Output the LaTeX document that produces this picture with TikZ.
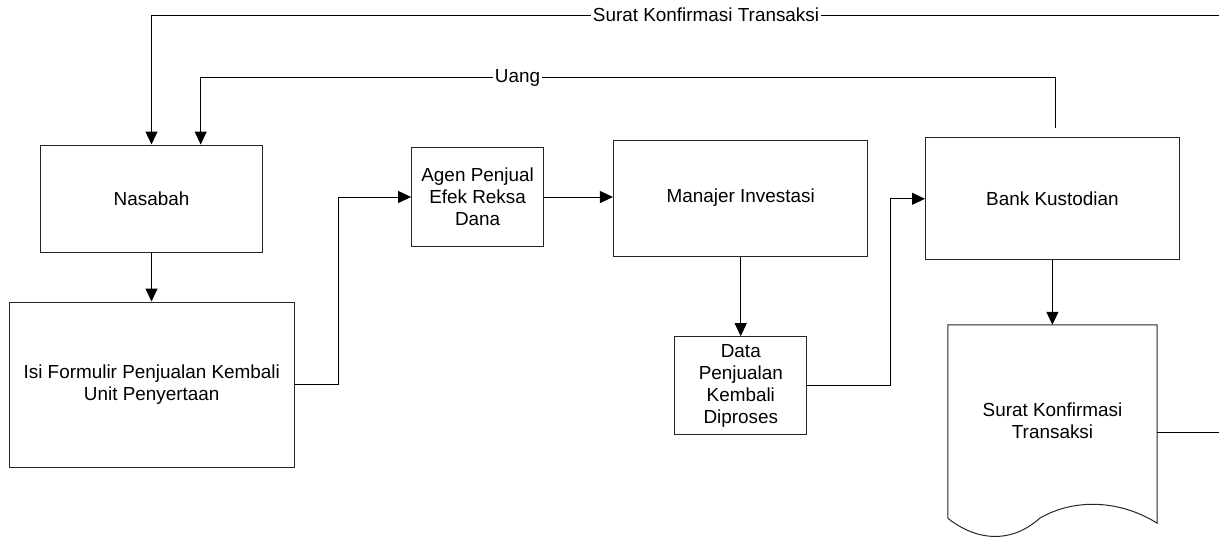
\documentclass[tikz,border=0pt]{standalone}
\usepackage{fontspec}
\setmainfont{Liberation Sans}
\usetikzlibrary{arrows.meta,calc}
\begin{document}
\begin{tikzpicture}[x=1pt,y=-1pt,
  txt/.style={font=\fontsize{18.9}{22}\selectfont},
  box/.style={txt, draw=black!85, line width=1pt, align=center, inner sep=0pt},
  conn/.style={line width=1pt, draw=black},
  arr/.style={conn, -{Triangle[length=13pt,width=12pt]}},
  lbl/.style={txt, fill=white, inner sep=2pt}]
\useasboundingbox (0,0) rectangle (1219,539);

% boxes
\node[box, minimum width=222.5pt, minimum height=107pt] (nas) at (151.5,198.5) {Nasabah};
\node[box, minimum width=285.5pt, minimum height=165pt] (isi) at (151.75,384.5) {Isi Formulir Penjualan Kembali\\Unit Penyertaan};
\node[box, minimum width=132pt, minimum height=99pt] (agen) at (477.6,197) {Agen Penjual\\Efek Reksa\\Dana};
\node[box, minimum width=254.5pt, minimum height=116pt] (man) at (740.7,198) {Manajer Investasi};
\node[box, minimum width=253.8pt, minimum height=122.3pt] (bank) at (1052.4,198.8) {Bank Kustodian};
\node[box, minimum width=131.7pt, minimum height=97.8pt] (data) at (740.8,385.6) {Data\\Penjualan\\Kembali\\Diproses};

% document shape
\node[inner sep=0pt, minimum width=209pt, minimum height=193pt] (doc) at (1052.5,421.5) {};
\draw[line width=1pt, draw=black!85] (doc.south west) -- (doc.north west) -- (doc.north east) -- ([yshift=-5pt]doc.south east)
  .. controls (1120,500) and (1075,498) .. (1040,518)
  .. controls (1010,545) and (975,540) .. (doc.south west);
\node[txt, align=center] (doct) at ([yshift=1pt]doc.center) {Surat Konfirmasi\\Transaksi};

% connectors
\draw[arr] (nas.south) -- (nas.south |- isi.north);
\draw[arr] (isi.east) -- ++(43.5,0) |- (agen.west);
\draw[arr] (agen.east) -- (agen.east -| man.west);
\draw[arr] (man.south) -- (man.south |- data.north);
\draw[arr] (data.east) -- ++(83.3,0) |- (bank.west);
\draw[arr] (bank.south) -- (bank.south |- doc.north);

\coordinate (u0) at ([xshift=2.6pt,yshift=9.5pt]bank.north);
\draw[arr] (u0) -- ++(0,-50) -| ([xshift=49.2pt]nas.north);

\coordinate (docout) at ([yshift=-11pt]doc.east);
\draw[arr] (docout) -- ++(65,0) -- ++(0,-417.5) -| (nas.north);

% labels
\node[lbl] (lblsurat) at (706,15) {Surat Konfirmasi Transaksi};
\node[lbl] (lbluang) at (517.5,78.3) {Uang};
\end{tikzpicture}
\end{document}
